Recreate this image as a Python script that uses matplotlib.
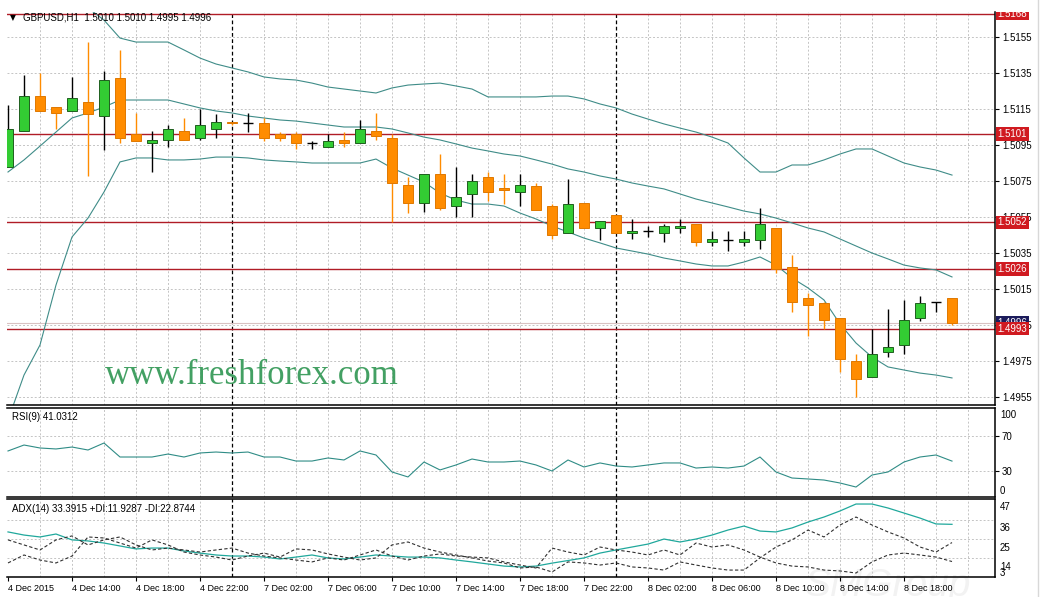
import matplotlib
matplotlib.use('Agg')
import matplotlib.pyplot as plt
from matplotlib.lines import Line2D

# ---------------- data (GBPUSD H1, 4 Dec 2015 10:00 .. 8 Dec 2015 21:00) ----------------
open_ = [1.5083, 1.5103, 1.5122, 1.5116, 1.5114, 1.5119, 1.5111, 1.5132, 1.5101, 1.5096,
         1.5098, 1.5103, 1.5099, 1.5104, 1.5108, 1.5107, 1.5107, 1.5101, 1.5101, 1.5096,
         1.5094, 1.5098, 1.5096, 1.5103, 1.5099, 1.5073, 1.5063, 1.5079, 1.5061, 1.5068,
         1.5077, 1.5071, 1.5069, 1.5072, 1.5061, 1.5046, 1.5063, 1.5049, 1.5056, 1.5046,
         1.5047, 1.5046, 1.5049, 1.5051, 1.5041, 1.5042, 1.5041, 1.5042, 1.5049, 1.5027,
         1.5010, 1.5007, 1.4999, 1.4975, 1.4966, 1.4980, 1.4984, 1.4999, 1.5008, 1.5010]
high = [1.5117, 1.5134, 1.5135, 1.5116, 1.5133, 1.5152, 1.5136, 1.5148, 1.5113, 1.5103,
        1.5106, 1.5110, 1.5115, 1.5112, 1.5108, 1.5113, 1.5110, 1.5102, 1.5102, 1.5097,
        1.5101, 1.5102, 1.5109, 1.5113, 1.5101, 1.5077, 1.5079, 1.5090, 1.5083, 1.5079,
        1.5080, 1.5079, 1.5079, 1.5074, 1.5062, 1.5076, 1.5063, 1.5053, 1.5056, 1.5054,
        1.5050, 1.5051, 1.5054, 1.5051, 1.5047, 1.5047, 1.5047, 1.5060, 1.5049, 1.5034,
        1.5013, 1.5008, 1.4999, 1.4979, 1.4993, 1.5004, 1.5009, 1.5011, 1.5008, 1.5010]
low = [1.5083, 1.5103, 1.5114, 1.5104, 1.5114, 1.5078, 1.5092, 1.5096, 1.5097, 1.5080,
       1.5094, 1.5098, 1.5098, 1.5099, 1.5106, 1.5102, 1.5097, 1.5097, 1.5093, 1.5093,
       1.5094, 1.5094, 1.5096, 1.5098, 1.5052, 1.5057, 1.5058, 1.5059, 1.5055, 1.5055,
       1.5064, 1.5062, 1.5061, 1.5059, 1.5043, 1.5046, 1.5049, 1.5042, 1.5046, 1.5043,
       1.5044, 1.5041, 1.5046, 1.5039, 1.5039, 1.5036, 1.5039, 1.5037, 1.5024, 1.5002,
       1.4989, 1.4993, 1.4969, 1.4955, 1.4966, 1.4977, 1.4979, 1.4997, 1.5002, 1.4995]
close = [1.5104, 1.5122, 1.5114, 1.5113, 1.5121, 1.5112, 1.5131, 1.5099, 1.5097, 1.5098,
         1.5104, 1.5098, 1.5106, 1.5108, 1.5107, 1.5107, 1.5099, 1.5099, 1.5096, 1.5096,
         1.5097, 1.5096, 1.5104, 1.5100, 1.5074, 1.5063, 1.5079, 1.5060, 1.5066, 1.5075,
         1.5069, 1.5070, 1.5073, 1.5059, 1.5045, 1.5062, 1.5049, 1.5053, 1.5046, 1.5047,
         1.5047, 1.5050, 1.5050, 1.5041, 1.5043, 1.5042, 1.5043, 1.5051, 1.5026, 1.5008,
         1.5006, 1.4998, 1.4976, 1.4965, 1.4979, 1.4983, 1.4998, 1.5007, 1.5008, 1.4996]

bb_upper = [1.52178, 1.52061, 1.52050, 1.51872, 1.51761, 1.51711, 1.51644, 1.51544, 1.51522, 1.51522,
            1.51522, 1.51478, 1.51433, 1.51400, 1.51378, 1.51356, 1.51328, 1.51317, 1.51311, 1.51294,
            1.51272, 1.51261, 1.51250, 1.51239, 1.51267, 1.51283, 1.51289, 1.51294, 1.51278, 1.51261,
            1.51217, 1.51217, 1.51217, 1.51217, 1.51222, 1.51222, 1.51206, 1.51178, 1.51156, 1.51122,
            1.51094, 1.51067, 1.51044, 1.51022, 1.50994, 1.50961, 1.50878, 1.50800, 1.50800, 1.50839,
            1.50839, 1.50867, 1.50900, 1.50928, 1.50928, 1.50889, 1.50850, 1.50828, 1.50811, 1.50783]
bb_mid = [1.50800, 1.50867, 1.50944, 1.51022, 1.51100, 1.51128, 1.51161, 1.51200, 1.51200, 1.51200,
          1.51200, 1.51178, 1.51156, 1.51139, 1.51128, 1.51111, 1.51100, 1.51089, 1.51083, 1.51072,
          1.51061, 1.51050, 1.51050, 1.51050, 1.51039, 1.51017, 1.50994, 1.50978, 1.50956, 1.50933,
          1.50917, 1.50900, 1.50889, 1.50867, 1.50844, 1.50817, 1.50800, 1.50778, 1.50761, 1.50739,
          1.50722, 1.50706, 1.50678, 1.50650, 1.50628, 1.50606, 1.50583, 1.50567, 1.50544, 1.50517,
          1.50489, 1.50467, 1.50428, 1.50389, 1.50350, 1.50317, 1.50283, 1.50267, 1.50256, 1.50217]
bb_lower = [1.49422, 1.49672, 1.49839, 1.50172, 1.50439, 1.50544, 1.50689, 1.50856, 1.50878, 1.50878,
            1.50867, 1.50867, 1.50872, 1.50883, 1.50883, 1.50878, 1.50867, 1.50861, 1.50856, 1.50850,
            1.50850, 1.50850, 1.50850, 1.50872, 1.50822, 1.50783, 1.50744, 1.50683, 1.50644, 1.50622,
            1.50622, 1.50611, 1.50572, 1.50539, 1.50500, 1.50467, 1.50433, 1.50406, 1.50378, 1.50361,
            1.50344, 1.50322, 1.50306, 1.50289, 1.50278, 1.50278, 1.50300, 1.50328, 1.50283, 1.50211,
            1.50156, 1.50089, 1.49956, 1.49850, 1.49772, 1.49717, 1.49700, 1.49683, 1.49672, 1.49656]

rsi = [52.6, 59.4, 56.0, 54.9, 57.1, 53.7, 61.7, 45.7, 45.7, 45.7,
       49.1, 45.7, 50.3, 51.4, 50.3, 51.4, 45.7, 45.7, 41.1, 41.1,
       44.6, 42.3, 52.6, 48.0, 28.6, 22.9, 40.0, 30.9, 36.6, 43.4,
       40.0, 40.0, 41.1, 36.6, 29.7, 42.3, 34.3, 38.9, 35.4, 34.3,
       36.6, 38.9, 38.9, 33.1, 34.3, 33.1, 35.4, 45.7, 28.6, 21.7,
       20.6, 19.4, 16.0, 11.4, 25.1, 28.6, 40.0, 45.7, 48.0, 41.03]

adx = [29.0, 27.2, 26.1, 27.8, 24.4, 23.8, 22.6, 20.9, 19.2, 19.7,
       19.7, 18.0, 16.8, 15.7, 15.1, 15.1, 14.5, 13.4, 14.5, 15.7,
       14.0, 13.4, 14.5, 15.7, 15.1, 14.5, 14.5, 14.0, 12.8, 11.7,
       10.5, 9.3, 8.8, 9.3, 11.0, 12.5, 14.0, 16.8, 18.6, 20.3,
       22.0, 24.9, 23.2, 24.9, 27.2, 30.1, 32.4, 29.5, 29.0, 31.3,
       34.7, 37.6, 41.1, 45.1, 45.1, 42.8, 39.9, 37.0, 33.6, 33.39]
plus_di = [24.4, 21.5, 18.6, 24.4, 26.7, 21.5, 24.4, 26.1, 21.5, 18.6,
           19.7, 18.6, 17.4, 18.6, 19.7, 16.8, 15.1, 14.0, 12.8, 11.7,
           14.0, 12.8, 15.7, 18.6, 15.1, 12.8, 15.1, 16.3, 15.1, 14.5,
           14.0, 11.7, 9.9, 8.2, 19.7, 17.4, 15.7, 20.3, 18.6, 17.4,
           15.7, 18.6, 15.7, 22.6, 20.3, 21.5, 18.6, 14.5, 11.1, 9.3,
           8.8, 7.0, 6.5, 5.3, 11.7, 15.7, 16.8, 15.7, 14.5, 11.93]
minus_di = [11.1, 15.7, 12.8, 11.1, 15.1, 26.1, 25.5, 22.6, 19.7, 24.4,
            21.5, 17.4, 15.7, 14.5, 12.8, 15.1, 16.8, 14.5, 19.2, 18.6,
            16.3, 14.5, 12.8, 14.0, 21.5, 23.2, 19.7, 17.4, 15.7, 14.0,
            12.2, 11.1, 8.2, 8.8, 5.9, 11.7, 11.1, 9.9, 11.1, 8.8,
            8.2, 7.0, 11.7, 9.9, 8.2, 7.0, 7.0, 14.0, 20.3, 24.4,
            30.1, 26.1, 33.0, 37.6, 33.0, 29.0, 25.5, 20.3, 17.4, 22.87]

level_prices = [1.5168, 1.5101, 1.5052, 1.5026, 1.4993]
level_labels = ['1.5168', '1.5101', '1.5052', '1.5026', '1.4993']
bid_price = 1.4996
price_ticks = [1.5155, 1.5135, 1.5115, 1.5095, 1.5075, 1.5055, 1.5035, 1.5015, 1.4995, 1.4975, 1.4955]
time_tick_idx = [0, 4, 8, 12, 16, 20, 24, 28, 32, 36, 40, 44, 48, 52, 56]
time_labels = ['4 Dec 2015', '4 Dec 14:00', '4 Dec 18:00', '4 Dec 22:00', '7 Dec 02:00',
               '7 Dec 06:00', '7 Dec 10:00', '7 Dec 14:00', '7 Dec 18:00', '7 Dec 22:00',
               '8 Dec 02:00', '8 Dec 06:00', '8 Dec 10:00', '8 Dec 14:00', '8 Dec 18:00']
day_sep_idx = [14, 38]

# ---------------- figure ----------------
plt.rcParams['font.family'] = ['Liberation Sans', 'DejaVu Sans']
W, H = 1046, 597
fig = plt.figure(figsize=(W / 100, H / 100), dpi=100)
fig.patch.set_facecolor('white')


def add_ax(l, t, r, b):
    a = fig.add_axes([l / W, 1 - b / H, (r - l) / W, (b - t) / H])
    a.set_facecolor('none')
    return a


X_LO, X_HI = -1 / 16, (995 - 8) / 16
n = len(close)
idx = list(range(n))
GRID = '#c4c4c4'
BB_C = '#3f8c88'
UP_C = '#33cc33'
DN_C = '#ff8c00'
RED = '#b01c26'


def vgrid(a):
    for k in range(2, 62, 2):
        if k in day_sep_idx:
            continue
        a.axvline(k, color=GRID, lw=0.7, ls=(0, (2, 2)), zorder=0)
    for k in day_sep_idx:
        a.axvline(k, color='black', lw=0.9, ls=(0, (3, 2)), zorder=1)


def frame(a, top=True):
    a.spines['left'].set_visible(False)
    a.spines['top'].set_visible(top)
    for s in ['right', 'bottom', 'top']:
        a.spines[s].set_color('black')
        a.spines[s].set_linewidth(1.1)


# ---- main pane ----
ax = add_ax(7, 12, 995, 405)
ax.set_xlim(X_LO, X_HI)
ax.set_ylim(1.495056, 1.516889)
frame(ax, top=False)
vgrid(ax)
ax.set_yticks(price_ticks)
ax.set_yticklabels([f'{p:.4f}' for p in price_ticks])
ax.yaxis.tick_right()
ax.tick_params(axis='y', length=3, width=0.8, labelsize=7, pad=2, direction='out')
ax.tick_params(axis='x', bottom=False, labelbottom=False)
ax.grid(axis='y', color=GRID, lw=0.7, ls=(0, (2, 2)), zorder=0)

for p in level_prices:
    ax.axhline(p, color=RED, lw=1.0, zorder=1)
ax.axhline(bid_price, color='#d9c2c2', lw=0.8, zorder=1)

ax.plot(idx, bb_upper, color=BB_C, lw=0.8, zorder=2)
ax.plot(idx, bb_mid, color=BB_C, lw=0.8, zorder=2)
ax.plot(idx, bb_lower, color=BB_C, lw=0.8, zorder=2)

bw = 0.66
for i in idx:
    o, h, l, c = open_[i], high[i], low[i], close[i]
    if c > o:
        ax.vlines(i, l, h, color='black', lw=1.0, zorder=3)
        ax.bar(i, c - o, bottom=o, width=bw, color=UP_C, edgecolor='#1f5f1f', linewidth=0.7, zorder=4)
    elif c < o:
        ax.vlines(i, l, h, color=DN_C, lw=1.0, zorder=3)
        ax.bar(i, o - c, bottom=c, width=bw, color=DN_C, edgecolor='#e07800', linewidth=0.7, zorder=4)
    else:
        ax.vlines(i, l, h, color='black', lw=1.0, zorder=3)
        ax.hlines(o, i - bw / 2, i + bw / 2, color='black', lw=1.0, zorder=4)

# right-side price labels (clipped to pane)
axl = add_ax(995, 12, 1046, 405)
axl.set_xlim(0, 1)
axl.set_ylim(ax.get_ylim())
axl.axis('off')
axl.text(0.05, bid_price, '1.4996', color='white', fontsize=7, va='center', ha='left',
         bbox=dict(boxstyle='square,pad=0.18', fc='#1c1c5c', ec='none'), clip_on=True, zorder=5)
for p, s in zip(level_prices, level_labels):
    axl.text(0.05, p, s, color='white', fontsize=7, va='center', ha='left',
             bbox=dict(boxstyle='square,pad=0.18', fc='#d01a20', ec='none'), clip_on=True, zorder=6)

fig.text(10 / W, 1 - 18 / H, '\u25bc', fontsize=5.5, family=['DejaVu Sans'], va='center', ha='left')
fig.text(23 / W, 1 - 18 / H, 'GBPUSD,H1  1.5010 1.5010 1.4995 1.4996', fontsize=7, va='center', ha='left')
fig.text(105 / W, 1 - 384 / H, 'www.freshforex.com', family=['Liberation Serif', 'DejaVu Serif'],
         fontsize=25, color='#43a063', va='baseline', ha='left')

# ---- RSI pane ----
ar = add_ax(7, 408, 995, 497)
ar.set_xlim(X_LO, X_HI)
ar.set_ylim(0, 101.7)
frame(ar)
vgrid(ar)
ar.axhline(70, color=GRID, lw=0.7, ls=(0, (2, 2)), zorder=0)
ar.axhline(30, color=GRID, lw=0.7, ls=(0, (2, 2)), zorder=0)
ar.plot(idx, rsi, color='#2f8c86', lw=0.8, zorder=3)
ar.set_yticks([70, 30])
ar.set_yticklabels(['70', '30'])
ar.yaxis.tick_right()
ar.tick_params(axis='y', length=3, width=0.8, labelsize=7, pad=2)
ar.tick_params(axis='x', bottom=False, labelbottom=False)
fig.text(1000 / W, 1 - 415 / H, '100', fontsize=7, va='center', ha='left')
fig.text(1000 / W, 1 - 491 / H, '0', fontsize=7, va='center', ha='left')
fig.text(12 / W, 1 - 417 / H, 'RSI(9) 41.0312', fontsize=7, va='center', ha='left')

# ---- ADX pane ----
aa = add_ax(7, 499, 995, 577)
aa.set_xlim(X_LO, X_HI)
aa.set_ylim(3, 48)
frame(aa)
vgrid(aa)
for v in [36, 25, 14]:
    aa.axhline(v, color=GRID, lw=0.7, ls=(0, (2, 2)), zorder=0)
aa.plot(idx, adx, color='#20a89c', lw=0.9, zorder=3)
aa.plot(idx, plus_di, color='#303030', lw=0.8, ls=(0, (3, 2)), zorder=3)
aa.plot(idx, minus_di, color='#303030', lw=0.8, ls=(0, (3, 2)), zorder=3)
aa.set_yticks([])
aa.set_xticks(time_tick_idx)
aa.set_xticklabels(time_labels, ha='left')
aa.tick_params(axis='x', length=3, width=0.8, labelsize=6.5, pad=2)
for s, py in zip(['47', '36', '25', '14', '3'], [507, 528, 548, 567, 573]):
    fig.text(1000 / W, 1 - py / H, s, fontsize=7, va='center', ha='left')
fig.text(12 / W, 1 - 509 / H, 'ADX(14) 33.3915 +DI:11.9287 -DI:22.8744', fontsize=7, va='center', ha='left')

# faint watermark bottom right
fig.text(805 / W, 1 - 596 / H, 'SMGroup', fontsize=28, style='italic', color='#f2f2f2',
         va='baseline', ha='left', zorder=-5)
fig.add_artist(Line2D([1038 / W, 1038 / W], [0, 1], color='#d8d8d8', lw=1))

fig.savefig('out.png', dpi=100)
